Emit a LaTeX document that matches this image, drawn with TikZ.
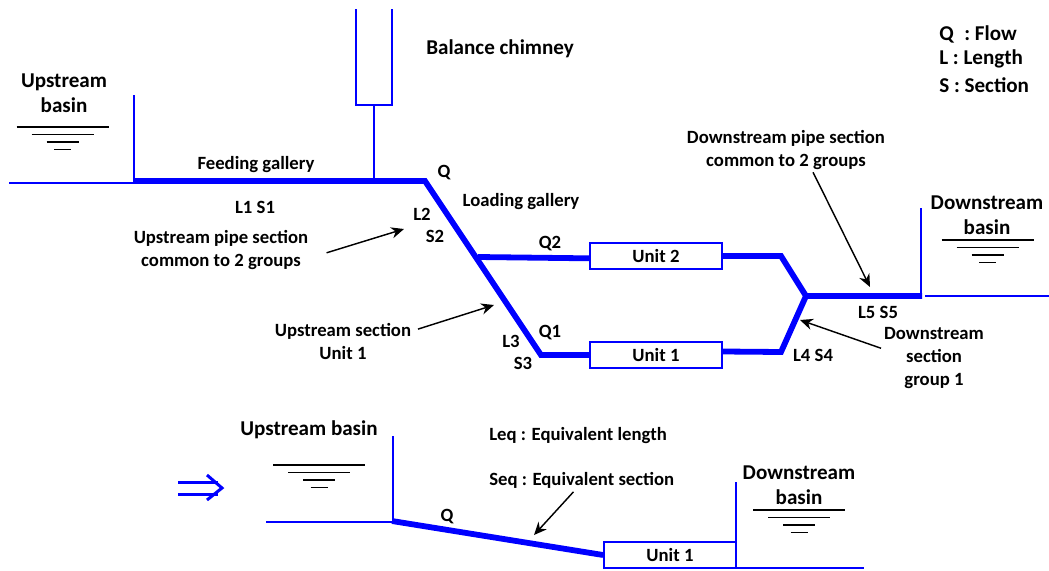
\documentclass[tikz,border=0pt]{standalone}
\usepackage{fontspec}
\setmainfont{Carlito}
\usetikzlibrary{arrows.meta,positioning,calc}
\definecolor{pipeblue}{HTML}{0000FF}
\tikzset{
  pipe/.style  ={draw=pipeblue, line width=1.45mm, line join=miter},
  wall/.style  ={draw=pipeblue, line width=0.45mm},
  level/.style ={draw=black, line width=0.42mm},
  unitbox/.style={draw=pipeblue, line width=0.45mm, fill=white, minimum width=33mm,
                minimum height=6.5mm, inner sep=0pt, font=\fontsize{13.3}{16}\selectfont\bfseries},
  lab/.style   ={font=\fontsize{13.3}{16.3}\selectfont\bfseries, align=center, inner sep=0.7mm, yshift=-0.4mm},
  biglab/.style={font=\fontsize{15}{18.1}\selectfont\bfseries, align=center, inner sep=0.7mm, yshift=-0.25mm},
  callout/.style={draw=black, line width=0.36mm, -{Stealth[length=3.2mm,width=2.8mm]}},
  eqline/.style={draw=pipeblue, line width=0.75mm},
}
% free surface of a basin, centred on #1 at height #2
\newcommand{\wlevel}[2]{
  \foreach \dy/\hw in {0/46, 7.5/31, 15/16, 22.5/8.5}
    \draw[level] (#1-\hw,#2+\dy) -- (#1+\hw,#2+\dy);
}

\begin{document}
\begin{tikzpicture}[x=0.25mm,y=-0.25mm]
  \useasboundingbox (0,0) rectangle (1049,570);

  % ---------------------------------------------------------------- upper circuit
  \node[unitbox] (utwo) at (656,256) {Unit 2};
  \node[unitbox] (uone) at (656,355) {Unit 1};
  \coordinate (bend)  at (425,181);
  \coordinate (split) at (478,257);
  \coordinate (foot)  at (541,355);
  \coordinate (join)  at (806,296);

  \draw[wall] (9,183) -- (135,183);
  \draw[wall] (134,95) -- (134,183);
  \draw[wall] (356,9) -- (356,105) -- (392,105) -- (392,9);
  \draw[wall] (374,105) -- (374,181);
  \draw[pipe] (134,181) -- (bend) -- (foot) -- (uone.west);
  \draw[pipe] (split) -- (utwo.182);
  \draw[pipe] (utwo.east) -- (781,256) -- (join) -- (922,296);
  \draw[pipe] (uone.3) -- (781,352) -- (join);
  \draw[wall] (921,208) -- (921,296);
  \draw[wall] (925,296) -- (1049,296);
  \wlevel{62.5}{127}
  \wlevel{987.5}{240}

  \node[biglab] (upbasin)   at (64,92.5)  {Upstream\\basin};
  \node[biglab] (downbasin) at (987,214)  {Downstream\\basin};
  \node[biglab, anchor=west, inner sep=0pt] (chimney) at (426,48) {Balance chimney};
  \node[biglab, anchor=west, inner sep=0pt] (lflow) at (939,33) {Q\hspace{0.5em}: Flow};
  \node[biglab, anchor=west, inner sep=0pt] (llen)  at (939,58) {L : Length};
  \node[biglab, anchor=west, inner sep=0pt] (lsec)  at (939,84) {S : Section};

  \node[lab] (feed)  at (256,163) {Feeding gallery};
  \node[lab] (ls1)   at (255,206) {L1 S1};
  \node[lab] (q)     at (444,171) {Q};
  \node[lab] (load)  at (521,200) {Loading gallery};
  \node[lab] (l2)    at (422,213) {L2};
  \node[lab] (s2)    at (435,235) {S2};
  \node[lab] (q2)    at (550,242) {Q2};
  \node[lab] (q1)    at (550,331) {Q1};
  \node[lab] (l3)    at (511,340) {L3};
  \node[lab] (s3)    at (523,362) {S3};
  \node[lab] (ls4)   at (813,354) {L4 S4};
  \node[lab] (ls5)   at (878,311) {L5 S5};
  \node[lab] (uppipe)   at (221,248) {Upstream pipe section\\common to 2 groups};
  \node[lab] (upsect)   at (343,340) {Upstream section\\Unit 1};
  \node[lab] (downpipe) at (786,148) {Downstream pipe section\\common to 2 groups};
  \node[lab] (downsect) at (934,356) {Downstream\\section\\group 1};

  \coordinate (uppipetip)   at (404,229);
  \coordinate (upsecttip)   at (494,305);
  \coordinate (downpipetip) at (870,287);
  \coordinate (downsecttip) at (800,320);
  \draw[callout, shorten <=4mm]   (uppipe.-5) -- (uppipetip);
  \draw[callout, shorten <=1mm]   (upsect.9) -- (upsecttip);
  \draw[callout]                  (downpipe.-40) -- (downpipetip);
  \draw[callout]                  (downsect.170) -- (downsecttip);

  % ---------------------------------------------------------------- equivalent circuit
  \coordinate (eqtail) at (178,488);
  \coordinate (eqhead) at (222,488);
  \draw[eqline] ($(eqtail)+(0,-6)$) -- ($(eqhead)+(-4,-6)$);
  \draw[eqline] ($(eqtail)+(0,6)$) -- ($(eqhead)+(-4,6)$);
  \draw[eqline] ($(eqhead)+(-15,-13)$) -- (eqhead) -- ($(eqhead)+(-15,12)$);

  \node[unitbox] (ueq) at (670,555) {Unit 1};
  \draw[wall] (266,522) -- (392,522);
  \draw[wall] (393,436) -- (393,522);
  \draw[pipe] (392,521) -- (ueq.west);
  \draw[wall] (736,482) -- (736,568) -- (864,568);
  \wlevel{319}{465}
  \wlevel{799}{510}

  \node[biglab] (upbasineq)   at (309,429) {Upstream basin};
  \node[biglab] (downbasineq) at (799,484) {Downstream\\basin};
  \node[lab] (qeq) at (447,515) {Q};
  \node[lab, anchor=west, inner sep=0pt] (leq) at (489,434) {Leq : Equivalent length};
  \node[lab, anchor=west, inner sep=0pt] (seq) at (489,479) {Seq : Equivalent section};
  \coordinate (seqtip) at (534,535);
  \draw[callout, shorten <=1mm] (seq.-124) -- (seqtip);
\end{tikzpicture}
\end{document}
